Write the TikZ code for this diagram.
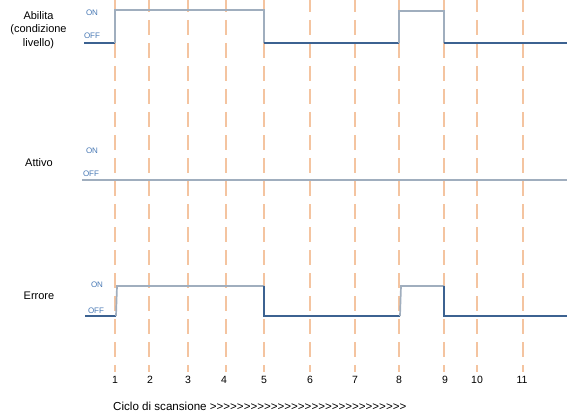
\documentclass[tikz,border=0pt]{standalone}
\usepackage{fontspec}
\setmainfont{Liberation Sans}
\begin{document}
\begin{tikzpicture}[x=1pt,y=-1pt,
  gridline/.style={draw={rgb,255:red,244;green,196;blue,160},line width=1.8pt,dash pattern=on 15pt off 8pt},
  onseg/.style={draw={rgb,255:red,160;green,174;blue,190},line width=1.7pt},
  offseg/.style={draw={rgb,255:red,60;green,98;blue,145},line width=1.1pt},
  lvl/.style={font=\fontsize{8}{9}\selectfont,text={rgb,255:red,74;green,122;blue,181},inner sep=0pt},
  sig/.style={font=\fontsize{11}{13.5}\selectfont,align=center,inner sep=0pt},
  num/.style={font=\fontsize{10.5}{12}\selectfont,inner sep=0pt}]
\useasboundingbox (0,0) rectangle (567,417);
% grid lines
\foreach \x in {115,149,188,226,264,310,355,399,444,477,523}
  \draw[gridline] (\x,-3) -- (\x,372);
% numbers
\foreach \x/\n in {115/1,150/2,188/3,224/4,264/5,310/6,355/7,399/8,445/9,477/10,522/11}
  \node[num] (n\n) at (\x,380) {\n};
% signal names
\node[sig] (abilita) at (38.5,30) {Abilita\\(condizione\\livello)};
\node[sig] (attivo) at (39,163) {Attivo};
\node[sig] (errore) at (39,296) {Errore};
% level labels
\node[lvl] (a-on) at (92,13) {ON};
\node[lvl] (a-off) at (92,36) {OFF};
\node[lvl] (t-on) at (92,151) {ON};
\node[lvl] (t-off) at (91,174) {OFF};
\node[lvl] (e-on) at (97,285) {ON};
\node[lvl] (e-off) at (96,311) {OFF};
% Abilita signal
\draw[offseg] (84,43) -- (115,43);
\draw[onseg] (115,43) -- (115,10) -- (264,10) -- (264,43);
\draw[offseg] (264,43) -- (399,43);
\draw[onseg] (399,43) -- (399,11) -- (444,11) -- (444,43);
\draw[offseg] (444,43) -- (567,43);
% Attivo signal
\draw[onseg] (82,180) -- (567,180);
% Errore signal
\draw[offseg] (85,316) -- (116,316);
\draw[onseg] (116,316) -- (117,286) -- (264,286);
\draw[offseg] (264,286) -- (264,316) -- (400,316);
\draw[onseg] (400,316) -- (401,286) -- (444,286);
\draw[offseg] (444,286) -- (444,316) -- (567,316);
% axis caption
\node[font=\fontsize{11.6}{13}\selectfont,anchor=west,inner sep=0pt] (ciclo) at (113,406) {Ciclo di scansione >{}>{}>{}>{}>{}>{}>{}>{}>{}>{}>{}>{}>{}>{}>{}>{}>{}>{}>{}>{}>{}>{}>{}>{}>{}>{}>{}>{}>};
\end{tikzpicture}
\end{document}
